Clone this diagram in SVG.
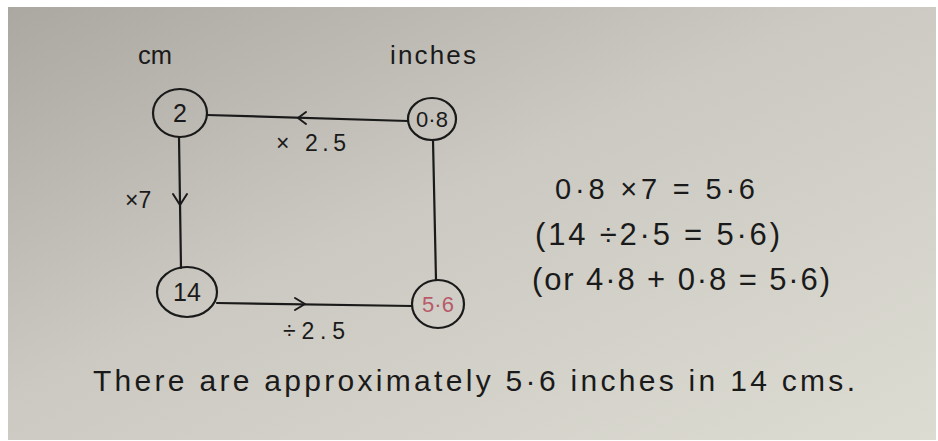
<svg xmlns="http://www.w3.org/2000/svg" width="938" height="441" viewBox="0 0 938 441">
<defs>
<linearGradient id="paper" x1="0" y1="0" x2="1" y2="1">
<stop offset="0" stop-color="#aaa8a1"/>
<stop offset="0.45" stop-color="#cbc9c1"/>
<stop offset="1" stop-color="#dddcd3"/>
</linearGradient>
<style>
.t{font-family:"Liberation Sans","DejaVu Sans",sans-serif;fill:#1a1a1a;}
.n{fill:none;stroke:#1a1a1a;stroke-width:2.2;}
.e{fill:none;stroke:#1a1a1a;stroke-width:2.2;stroke-linecap:round;}
.a{fill:none;stroke:#1a1a1a;stroke-width:2;stroke-linecap:round;stroke-linejoin:round;}
</style>
</defs>
<rect width="938" height="441" fill="#ffffff"/>
<rect x="8" y="7" width="928" height="433" fill="url(#paper)"/>
<text class="t" x="138" y="64" font-size="26" textLength="34" lengthAdjust="spacingAndGlyphs">cm</text>
<text class="t" x="390" y="64" font-size="26" textLength="86" lengthAdjust="spacing">inches</text>
<g id="connectors">
<path class="e" d="M207,115 L408,121"/>
<path class="a" d="M306,112 L298,118 L306,124"/>
<path class="e" d="M179,137 L181,268"/>
<path class="a" d="M173,194 L180,205 L187,194"/>
<path class="e" d="M433,140 L436,280"/>
<path class="e" d="M217,303 L412,306"/>
<path class="a" d="M295,298 L305,304 L295,310"/>
<text class="t" x="276" y="151" font-size="23" textLength="70" lengthAdjust="spacing">× 2.5</text>
<text class="t" x="125" y="208" font-size="23">×7</text>
<text class="t" x="283" y="339" font-size="23" textLength="62" lengthAdjust="spacing">÷2.5</text>
</g>
<g id="n2">
<ellipse class="n" cx="180" cy="113" rx="27" ry="24"/>
<text class="t" x="180" y="122" font-size="25" text-anchor="middle">2</text>
</g>
<g id="n08">
<ellipse class="n" cx="432" cy="119" rx="24" ry="21"/>
<text class="t" x="432" y="127" font-size="22" text-anchor="middle">0·8</text>
</g>
<g id="n14">
<ellipse class="n" cx="187" cy="292" rx="30" ry="25"/>
<text class="t" x="187" y="301" font-size="25" text-anchor="middle">14</text>
</g>
<g id="n56">
<ellipse class="n" cx="438" cy="304" rx="26" ry="24"/>
<text class="t" x="438" y="312" font-size="22" text-anchor="middle" style="fill:#b85a6a">5·6</text>
</g>
<text class="t" x="555" y="199" font-size="29" textLength="200" lengthAdjust="spacing">0·8 ×7 = 5·6</text>
<text class="t" x="535" y="245" font-size="31" textLength="245" lengthAdjust="spacing">(14 ÷2·5 = 5·6)</text>
<text class="t" x="532" y="290" font-size="31" textLength="298" lengthAdjust="spacing">(or 4·8 + 0·8 = 5·6)</text>
<text class="t" x="93" y="391" font-size="30" textLength="762" lengthAdjust="spacing">There are approximately 5·6 inches in 14 cms.</text>
</svg>
